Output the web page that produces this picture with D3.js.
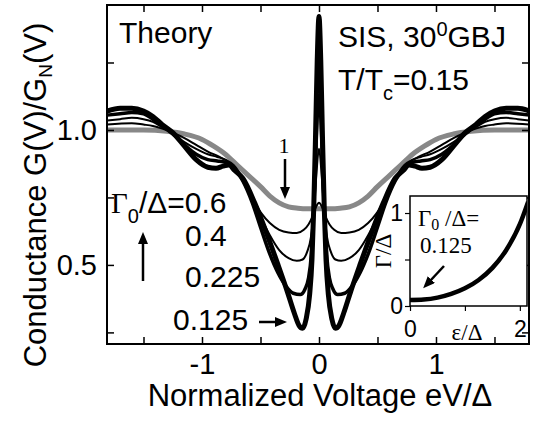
<!DOCTYPE html>
<html>
<head>
<meta charset="utf-8">
<script src="https://cdn.jsdelivr.net/npm/d3@7"></script>
<style>
  body { margin: 0; background: #fff; }
  svg { display: block; }
  text { font-family: "Liberation Sans", Arial, Helvetica, sans-serif; fill: #000; }
  .serif { font-family: "Liberation Serif", "Times New Roman", serif; }
</style>
</head>
<body>
<svg id="chart" width="537" height="426"></svg>
<script>
// conductance curves (eV/Delta, G/GN)
const v125 = [-1.81,-1.7,-1.6,-1.5,-1.42,-1.34,-1.25,-1.15,-1.05,-0.95,-0.88,-0.82,-0.77,-0.72,-0.65,-0.55,-0.45,-0.35,-0.27,-0.21,-0.17,-0.14,-0.11,-0.08,-0.06,-0.045,-0.03,-0.015,0,
  0.015,0.03,0.045,0.06,0.08,0.11,0.14,0.17,0.21,0.27,0.35,0.45,0.55,0.65,0.72,0.77,0.82,0.88,0.95,1.05,1.15,1.25,1.34,1.42,1.5,1.6,1.7,1.8];
const g125 = [1.07,1.08,1.08,1.07,1.05,1.02,0.99,0.94,0.89,0.862,0.858,0.866,0.87,0.85,0.82,0.73,0.62,0.5,0.4,0.32,0.275,0.265,0.3,0.39,0.52,0.71,0.97,1.26,1.42,
  1.26,0.97,0.71,0.52,0.39,0.3,0.265,0.275,0.32,0.4,0.5,0.62,0.73,0.82,0.85,0.87,0.866,0.858,0.862,0.89,0.94,0.99,1.02,1.05,1.07,1.08,1.08,1.07];

const v225 = [-1.81,-1.7,-1.6,-1.5,-1.42,-1.34,-1.25,-1.15,-1.05,-0.95,-0.87,-0.8,-0.73,-0.65,-0.57,-0.5,-0.42,-0.35,-0.28,-0.22,-0.16,-0.12,-0.09,-0.065,-0.045,-0.03,-0.015,0,
  0.015,0.03,0.045,0.065,0.09,0.12,0.16,0.22,0.28,0.35,0.42,0.5,0.57,0.65,0.73,0.8,0.87,0.95,1.05,1.15,1.25,1.34,1.42,1.5,1.6,1.7,1.8];
const g225 = [1.055,1.06,1.065,1.06,1.04,1.015,0.985,0.945,0.91,0.89,0.885,0.88,0.86,0.81,0.73,0.64,0.54,0.47,0.42,0.395,0.39,0.41,0.45,0.54,0.7,0.88,1.05,1.13,
  1.05,0.88,0.7,0.54,0.45,0.41,0.39,0.395,0.42,0.47,0.54,0.64,0.73,0.81,0.86,0.88,0.885,0.89,0.91,0.945,0.985,1.015,1.04,1.06,1.065,1.06,1.055];

const v400 = [-1.81,-1.7,-1.6,-1.5,-1.42,-1.34,-1.25,-1.15,-1.05,-0.95,-0.87,-0.8,-0.73,-0.65,-0.58,-0.5,-0.42,-0.34,-0.26,-0.19,-0.14,-0.1,-0.07,-0.045,-0.025,0,
  0.025,0.045,0.07,0.1,0.14,0.19,0.26,0.34,0.42,0.5,0.58,0.65,0.73,0.8,0.87,0.95,1.05,1.15,1.25,1.34,1.42,1.5,1.6,1.7,1.8];
const g400 = [1.035,1.04,1.045,1.04,1.03,1.01,0.985,0.955,0.93,0.91,0.9,0.89,0.87,0.82,0.76,0.68,0.61,0.555,0.525,0.515,0.52,0.55,0.6,0.7,0.82,0.93,
  0.82,0.7,0.6,0.55,0.52,0.515,0.525,0.555,0.61,0.68,0.76,0.82,0.87,0.89,0.9,0.91,0.93,0.955,0.985,1.01,1.03,1.04,1.045,1.04,1.035];

const v600 = [-1.81,-1.6,-1.5,-1.42,-1.34,-1.25,-1.15,-1.05,-0.95,-0.85,-0.77,-0.7,-0.63,-0.56,-0.49,-0.42,-0.34,-0.26,-0.19,-0.13,-0.09,-0.055,-0.025,0,
  0.025,0.055,0.09,0.13,0.19,0.26,0.34,0.42,0.49,0.56,0.63,0.7,0.77,0.85,0.95,1.05,1.15,1.25,1.34,1.42,1.5,1.6,1.8];
const g600 = [1.02,1.025,1.02,1.015,1.005,0.99,0.97,0.945,0.92,0.9,0.88,0.85,0.8,0.74,0.69,0.655,0.63,0.62,0.618,0.63,0.65,0.68,0.715,0.73,
  0.715,0.68,0.65,0.63,0.618,0.62,0.63,0.655,0.69,0.74,0.8,0.85,0.88,0.9,0.92,0.945,0.97,0.99,1.005,1.015,1.02,1.025,1.02];

const v1000 = [-1.81,-1.5,-1.3,-1.15,-1.0,-0.9,-0.8,-0.7,-0.6,-0.5,-0.42,-0.34,-0.26,-0.18,-0.1,0,
  0.1,0.18,0.26,0.34,0.42,0.5,0.6,0.7,0.8,0.9,1.0,1.15,1.3,1.5,1.8];
const g1000 = [1.0,1.0,0.995,0.985,0.965,0.94,0.91,0.87,0.83,0.79,0.755,0.73,0.715,0.71,0.708,0.708,
  0.708,0.71,0.715,0.73,0.755,0.79,0.83,0.87,0.91,0.94,0.965,0.985,0.995,1.0,1.0];

// inset: Gamma(eps)/Delta for Gamma0/Delta = 0.125
const epsVals = [0,0.25,0.5,0.75,1.0,1.25,1.5,1.75,2.0,2.15];
const gammaVals = [0.065,0.07,0.09,0.13,0.19,0.28,0.41,0.6,0.88,1.12];

const xTicks = [-1.5,-1,-0.5,0,0.5,1,1.5];
const yTicks = [0.25,0.5,0.75,1.0,1.25];
const xTickLabels = {"-1": "-1", "0": "0", "1": "1"};
const yTickLabels = {"0.5": "0.5", "1": "1.0"};

var curves = [
  { v: v1000, g: g1000, color: "#888", width: 5 },
  { v: v600, g: g600, color: "#000", width: 2 },
  { v: v400, g: g400, color: "#000", width: 2 },
  { v: v225, g: g225, color: "#000", width: 3.5 },
  { v: v125, g: g125, color: "#000", width: 5 },
];

var svg = d3.select("#chart");
var plot = { left: 107, right: 529, top: 5, bottom: 344 };

var x = d3.scaleLinear().domain([-1.812, 1.795]).range([plot.left, plot.right]);
var y = d3.scaleLinear().domain([0.207, 1.463]).range([plot.bottom, plot.top]);

var defs = svg.append("defs");
defs.append("clipPath").attr("id", "plot-clip")
  .append("rect")
  .attr("x", plot.left).attr("y", plot.top)
  .attr("width", plot.right - plot.left).attr("height", plot.bottom - plot.top);
defs.append("marker")
  .attr("id", "head")
  .attr("markerUnits", "userSpaceOnUse")
  .attr("viewBox", "0 0 12 10")
  .attr("refX", 2).attr("refY", 5)
  .attr("markerWidth", 12).attr("markerHeight", 10)
  .attr("orient", "auto")
  .append("path").attr("d", "M0,0 L12,5 L0,10 z").attr("fill", "#000");

// curves
var line = d3.line()
  .x(function (d) { return x(d[0]); })
  .y(function (d) { return y(d[1]); })
  .curve(d3.curveMonotoneX);

svg.append("g").attr("clip-path", "url(#plot-clip)")
  .selectAll("path")
  .data(curves)
  .join("path")
  .attr("d", function (c) { return line(c.v.map(function (v, i) { return [v, c.g[i]]; })); })
  .attr("fill", "none")
  .attr("stroke", function (c) { return c.color; })
  .attr("stroke-width", function (c) { return c.width; })
  .attr("stroke-linejoin", "round");

// axes (ticks inside on all four sides)
function styleAxis(g) {
  g.select(".domain").remove();
  g.selectAll(".tick line").attr("stroke", "#000").attr("stroke-width", 1.5);
  g.selectAll(".tick text").attr("font-size", 29).attr("fill", "#000")
    .attr("font-family", '"Liberation Sans", Arial, sans-serif');
}
svg.append("g").attr("transform", "translate(0," + plot.bottom + ")")
  .call(d3.axisBottom(x).tickValues(xTicks).tickSize(-7).tickPadding(9)
    .tickFormat(function (d) { return xTickLabels[String(d)] || ""; }))
  .call(styleAxis);
svg.append("g").attr("transform", "translate(0," + plot.top + ")")
  .call(d3.axisTop(x).tickValues(xTicks).tickSize(-7).tickFormat(""))
  .call(styleAxis);
svg.append("g").attr("transform", "translate(" + plot.left + ",0)")
  .call(d3.axisLeft(y).tickValues(yTicks).tickSize(-7).tickPadding(10)
    .tickFormat(function (d) { return yTickLabels[String(d)] || ""; }))
  .call(styleAxis);
svg.append("g").attr("transform", "translate(" + plot.right + ",0)")
  .call(d3.axisRight(y).tickValues(yTicks).tickSize(-7).tickFormat(""))
  .call(styleAxis);

svg.append("rect")
  .attr("x", plot.left).attr("y", plot.top)
  .attr("width", plot.right - plot.left).attr("height", plot.bottom - plot.top)
  .attr("fill", "none").attr("stroke", "#000").attr("stroke-width", 2);

// axis titles
svg.append("text")
  .attr("x", 320).attr("y", 406)
  .attr("text-anchor", "middle").attr("font-size", 31)
  .text("Normalized Voltage eV/\u0394");

var yTitle = svg.append("text")
  .attr("transform", "translate(46,195) rotate(-90)")
  .attr("text-anchor", "middle").attr("font-size", 31);
yTitle.append("tspan").text("Conductance G(V)/G");
yTitle.append("tspan").attr("font-size", 19).attr("dy", 6).text("N");
yTitle.append("tspan").attr("dy", -6).text("(V)");

// annotations
svg.append("text").attr("x", 119).attr("y", 43).attr("font-size", 30).text("Theory");

var sis = svg.append("text").attr("x", 338).attr("y", 47).attr("font-size", 30);
sis.append("tspan").text("SIS, 30");
sis.append("tspan").attr("font-size", 20).attr("dy", -11).text("0");
sis.append("tspan").attr("dy", 11).text("GBJ");

var tt = svg.append("text").attr("x", 338).attr("y", 90).attr("font-size", 30);
tt.append("tspan").text("T/T");
tt.append("tspan").attr("font-size", 20).attr("dy", 10).text("c");
tt.append("tspan").attr("dy", -10).text("=0.15");

var g0 = svg.append("text").attr("x", 111).attr("y", 213).attr("font-size", 30);
g0.append("tspan").attr("class", "serif").attr("font-size", 29).text("\u0393");
g0.append("tspan").attr("font-size", 20).attr("dy", 10).text("0");
g0.append("tspan").attr("dy", -10).text("/\u0394=0.6");

svg.append("text").attr("x", 185).attr("y", 246).attr("font-size", 30).text("0.4");
svg.append("text").attr("x", 185).attr("y", 287).attr("font-size", 30).text("0.225");
svg.append("text").attr("x", 173).attr("y", 330).attr("font-size", 30).text("0.125");
svg.append("text").attr("class", "serif").attr("x", 284).attr("y", 153)
  .attr("text-anchor", "middle").attr("font-size", 22).text("1");

function arrow(x1, y1, x2, y2) {
  svg.append("line")
    .attr("x1", x1).attr("y1", y1).attr("x2", x2).attr("y2", y2)
    .attr("stroke", "#000").attr("stroke-width", 2.5)
    .attr("marker-end", "url(#head)");
}
arrow(143, 281, 143, 242);
arrow(285, 159, 285, 189);
arrow(259, 322, 277, 322);

// inset
var inset = { left: 410, right: 527, top: 196, bottom: 306 };
var ix = d3.scaleLinear().domain([0, 2.13]).range([inset.left, inset.right]);
var iy = d3.scaleLinear().domain([0, 1.183]).range([inset.bottom, inset.top]);

svg.append("rect")
  .attr("x", inset.left).attr("y", inset.top)
  .attr("width", inset.right - inset.left).attr("height", inset.bottom - inset.top)
  .attr("fill", "#fff").attr("stroke", "#000").attr("stroke-width", 1.5);

defs.append("clipPath").attr("id", "inset-clip")
  .append("rect")
  .attr("x", inset.left).attr("y", inset.top)
  .attr("width", inset.right - inset.left).attr("height", inset.bottom - inset.top);

svg.append("path")
  .datum(epsVals.map(function (e, i) { return [e, gammaVals[i]]; }))
  .attr("clip-path", "url(#inset-clip)")
  .attr("d", d3.line().x(function (d) { return ix(d[0]); }).y(function (d) { return iy(d[1]); })
    .curve(d3.curveMonotoneX))
  .attr("fill", "none").attr("stroke", "#000").attr("stroke-width", 4.5);

function styleInsetAxis(g) {
  g.select(".domain").remove();
  g.selectAll(".tick line").attr("stroke", "#000").attr("stroke-width", 1.2);
  g.selectAll(".tick text").attr("font-size", 23).attr("fill", "#000")
    .attr("font-family", '"Liberation Serif", "Times New Roman", serif');
}
svg.append("g").attr("transform", "translate(0," + inset.bottom + ")")
  .call(d3.axisBottom(ix).tickValues([0, 1, 2]).tickSize(5).tickPadding(10)
    .tickFormat(function (d) { return d === 1 ? "" : d; }))
  .call(styleInsetAxis);
svg.append("g").attr("transform", "translate(" + inset.left + ",0)")
  .call(d3.axisLeft(iy).tickValues([0, 0.5, 1]).tickSize(5).tickPadding(2)
    .tickFormat(function (d) { return d === 0.5 ? "" : d; }))
  .call(styleInsetAxis);

svg.append("text").attr("class", "serif").attr("x", 467).attr("y", 340)
  .attr("text-anchor", "middle").attr("font-size", 23).text("\u03b5/\u0394");
svg.append("text").attr("class", "serif")
  .attr("transform", "translate(391,251) rotate(-90)")
  .attr("text-anchor", "middle").attr("font-size", 23).text("\u0393/\u0394");

var ig = svg.append("text").attr("class", "serif").attr("x", 418).attr("y", 226).attr("font-size", 23);
ig.append("tspan").text("\u0393");
ig.append("tspan").attr("font-size", 16).attr("dy", 4).text("0");
ig.append("tspan").attr("dy", -4).text(" /\u0394=");
svg.append("text").attr("class", "serif").attr("x", 420).attr("y", 253)
  .attr("font-size", 23).text("0.125");

arrow(444, 266, 430, 281);
</script>
</body>
</html>
